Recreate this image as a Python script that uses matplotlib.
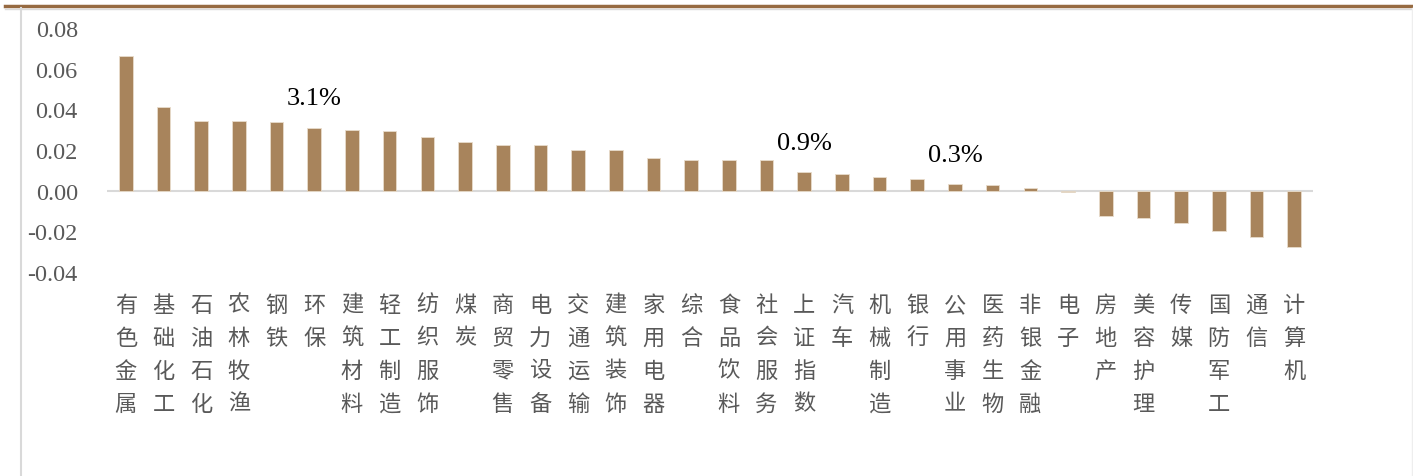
import matplotlib.pyplot as plt
from matplotlib.lines import Line2D

plt.rcParams['font.family'] = ['Noto Sans CJK SC', 'DejaVu Sans']

# 行业周涨跌幅
industries = ['有色金属', '基础化工', '石油石化', '农林牧渔', '钢铁', '环保', '建筑材料', '轻工制造',
              '纺织服饰', '煤炭', '商贸零售', '电力设备', '交通运输', '建筑装饰', '家用电器', '综合',
              '食品饮料', '社会服务', '上证指数', '汽车', '机械制造', '银行', '公用事业', '医药生物',
              '非银金融', '电子', '房地产', '美容护理', '传媒', '国防军工', '通信', '计算机']
returns = [0.066, 0.041, 0.0345, 0.0345, 0.034, 0.031, 0.030, 0.0295,
           0.0265, 0.0237, 0.0227, 0.0227, 0.020, 0.020, 0.016, 0.015,
           0.015, 0.015, 0.009, 0.008, 0.0065, 0.0055, 0.0033, 0.003,
           0.0012, -0.0007, -0.0126, -0.0133, -0.0158, -0.020, -0.0227, -0.0275]
labelled = ['环保', '上证指数', '公用事业']
y_ticks = [-0.04, -0.02, 0.00, 0.02, 0.04, 0.06, 0.08]

bar_color = '#A8845C'
grey = '#595959'
serif = ['Liberation Serif', 'DejaVu Serif']

fig = plt.figure(figsize=(14.13, 4.77), dpi=100)
ax = fig.add_axes([107 / 1413, 1 - 273 / 477, 1206 / 1413, 244 / 477])

x = range(len(industries))
ax.bar(x, returns, width=0.36, color=bar_color, edgecolor='#E8DCCB', linewidth=0.6, zorder=2)
ax.axhline(0, color='#D9D9D9', linewidth=1.5, zorder=1)

for i, (name, v) in enumerate(zip(industries, returns)):
    if name in labelled:
        ax.annotate(f'{v * 100:.1f}%', xy=(i, v), xytext=(0, 21), textcoords='offset points',
                    ha='center', va='center', fontsize=19, color='black', family=serif)

ax.set_xlim(-0.5, len(industries) - 0.5)
ax.set_ylim(-0.04, 0.08)
ax.set_yticks(y_ticks)
ax.set_yticklabels([f'{t:.2f}' for t in y_ticks], family=serif, fontsize=17.5, color=grey)
ax.set_xticks(list(x))
ax.set_xticklabels(['\n'.join(n) for n in industries], fontsize=16, color=grey,
                   va='top', linespacing=1.55)
ax.tick_params(axis='both', length=0)
ax.tick_params(axis='y', pad=21)
ax.tick_params(axis='x', pad=15)
for s in ax.spines.values():
    s.set_visible(False)

# frame lines around the chart area
fig.add_artist(Line2D([5 / 1413, 1], [1 - 7 / 477] * 2, color='#966A41', linewidth=2.5))
fig.add_artist(Line2D([5 / 1413, 1], [1 - 9.5 / 477] * 2, color='#DADADA', linewidth=1))
fig.add_artist(Line2D([21 / 1413] * 2, [0, 1 - 9 / 477], color='#D9D9D9', linewidth=1.5))
fig.add_artist(Line2D([1411.5 / 1413] * 2, [0, 1 - 9 / 477], color='#EEEEEE', linewidth=1))

fig.savefig('out.png', dpi=100)
